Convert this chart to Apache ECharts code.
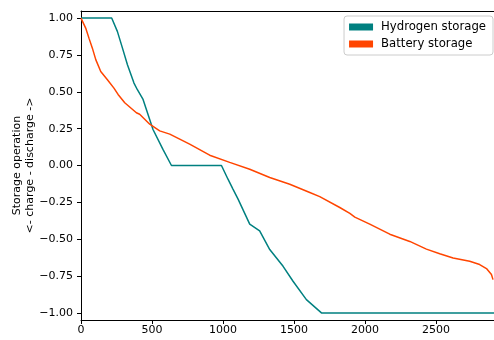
<!DOCTYPE html>
<html>
<head>
<meta charset="utf-8">
<script src="https://cdn.jsdelivr.net/npm/echarts@6/dist/echarts.min.js"></script>
<style>html,body{margin:0;padding:0;background:#fff}#c{width:494px;height:340px}</style>
</head>
<body>
<div id="c"></div>
<script>
var hydrogenX = [0, 216, 256, 292, 327, 373, 397, 437, 507, 577, 637, 989, 1035, 1070, 1106, 1188, 1258, 1329, 1423, 1493, 1587, 1693, 2910];
var hydrogenY = [1, 1, 0.910, 0.796, 0.684, 0.559, 0.514, 0.448, 0.244, 0.109, 0, 0, -0.093, -0.160, -0.228, -0.398, -0.444, -0.570, -0.684, -0.785, -0.910, -1, -1];
var batteryX = [0, 5, 33, 56, 80, 104, 139, 186, 232, 261, 308, 390, 413, 484, 554, 625, 695, 765, 906, 1047, 1188, 1329, 1470, 1611, 1681, 1822, 1893, 1928, 2033, 2174, 2315, 2432, 2526, 2620, 2737, 2807, 2855, 2890, 2901];
var batteryY = [1, 0.996, 0.932, 0.864, 0.796, 0.718, 0.638, 0.582, 0.525, 0.482, 0.426, 0.358, 0.348, 0.280, 0.235, 0.213, 0.179, 0.145, 0.070, 0.021, -0.025, -0.081, -0.127, -0.183, -0.211, -0.285, -0.325, -0.350, -0.398, -0.466, -0.515, -0.567, -0.599, -0.627, -0.650, -0.672, -0.699, -0.740, -0.774];
var xTicks = [0, 500, 1000, 1500, 2000, 2500];
var yTicks = [-1, -0.75, -0.5, -0.25, 0, 0.25, 0.5, 0.75, 1];
var seriesNames = ['Hydrogen storage', 'Battery storage'];
var yAxisTitle = 'Storage operation\n<- charge - discharge ->';

function zip(xs, ys) { return xs.map(function (x, i) { return [x, ys[i]]; }); }
var font = 'DejaVu Sans';
var chart = echarts.init(document.getElementById('c'), null, { renderer: 'canvas' });
chart.setOption({
  animation: false,
  backgroundColor: '#ffffff',
  grid: { left: 81, right: 0, top: 11, bottom: 20, containLabel: false, outerBoundsMode: 'none' },
  legend: {
    orient: 'vertical', right: 1, top: 16,
    padding: [5, 7, 5, 5], itemGap: 5, itemWidth: 24, itemHeight: 7,
    icon: 'rect',
    borderColor: '#cccccc', borderWidth: 1, borderRadius: 3,
    backgroundColor: 'rgba(255,255,255,0.8)',
    textStyle: { fontFamily: font, fontSize: 11.7, color: '#000', padding: [0, 0, 0, 3] },
    data: seriesNames
  },
  xAxis: [{
    type: 'value', min: 0, max: 2908,
    axisLine: { show: true, onZero: false, lineStyle: { color: '#000', width: 1 } },
    axisTick: { show: true, length: 4, lineStyle: { color: '#000' }, customValues: xTicks },
    axisLabel: { fontFamily: font, fontSize: 11, color: '#000', margin: 5, customValues: xTicks,
      formatter: function (v) { return String(v); } },
    splitLine: { show: false }
  }, {
    type: 'value', min: 0, max: 2908, position: 'top',
    axisLine: { show: true, onZero: false, lineStyle: { color: '#000', width: 1 } },
    axisTick: { show: false }, axisLabel: { show: false }, splitLine: { show: false }
  }],
  yAxis: {
    type: 'value', min: -1.048, max: 1.048,
    name: yAxisTitle, nameLocation: 'middle', nameRotate: 90, nameGap: 44, nameMoveOverlap: false,
    nameTextStyle: { fontFamily: font, fontSize: 11, color: '#000', lineHeight: 13 },
    axisLine: { show: true, onZero: false, lineStyle: { color: '#000', width: 1 } },
    axisTick: { show: true, length: 4, lineStyle: { color: '#000' }, customValues: yTicks },
    axisLabel: {
      fontFamily: font, fontSize: 11, color: '#000', margin: 8, customValues: yTicks,
      formatter: function (v) { return v.toFixed(2).replace('-', '\u2212'); }
    },
    splitLine: { show: false }
  },
  series: [{
    name: seriesNames[0], type: 'line', data: zip(hydrogenX, hydrogenY),
    showSymbol: false, symbol: 'none', color: '#008080',
    lineStyle: { color: '#008080', width: 1.5 }
  }, {
    name: seriesNames[1], type: 'line', data: zip(batteryX, batteryY),
    showSymbol: false, symbol: 'none', color: '#FF4500',
    lineStyle: { color: '#FF4500', width: 1.5 }
  }]
});
</script>
</body>
</html>
